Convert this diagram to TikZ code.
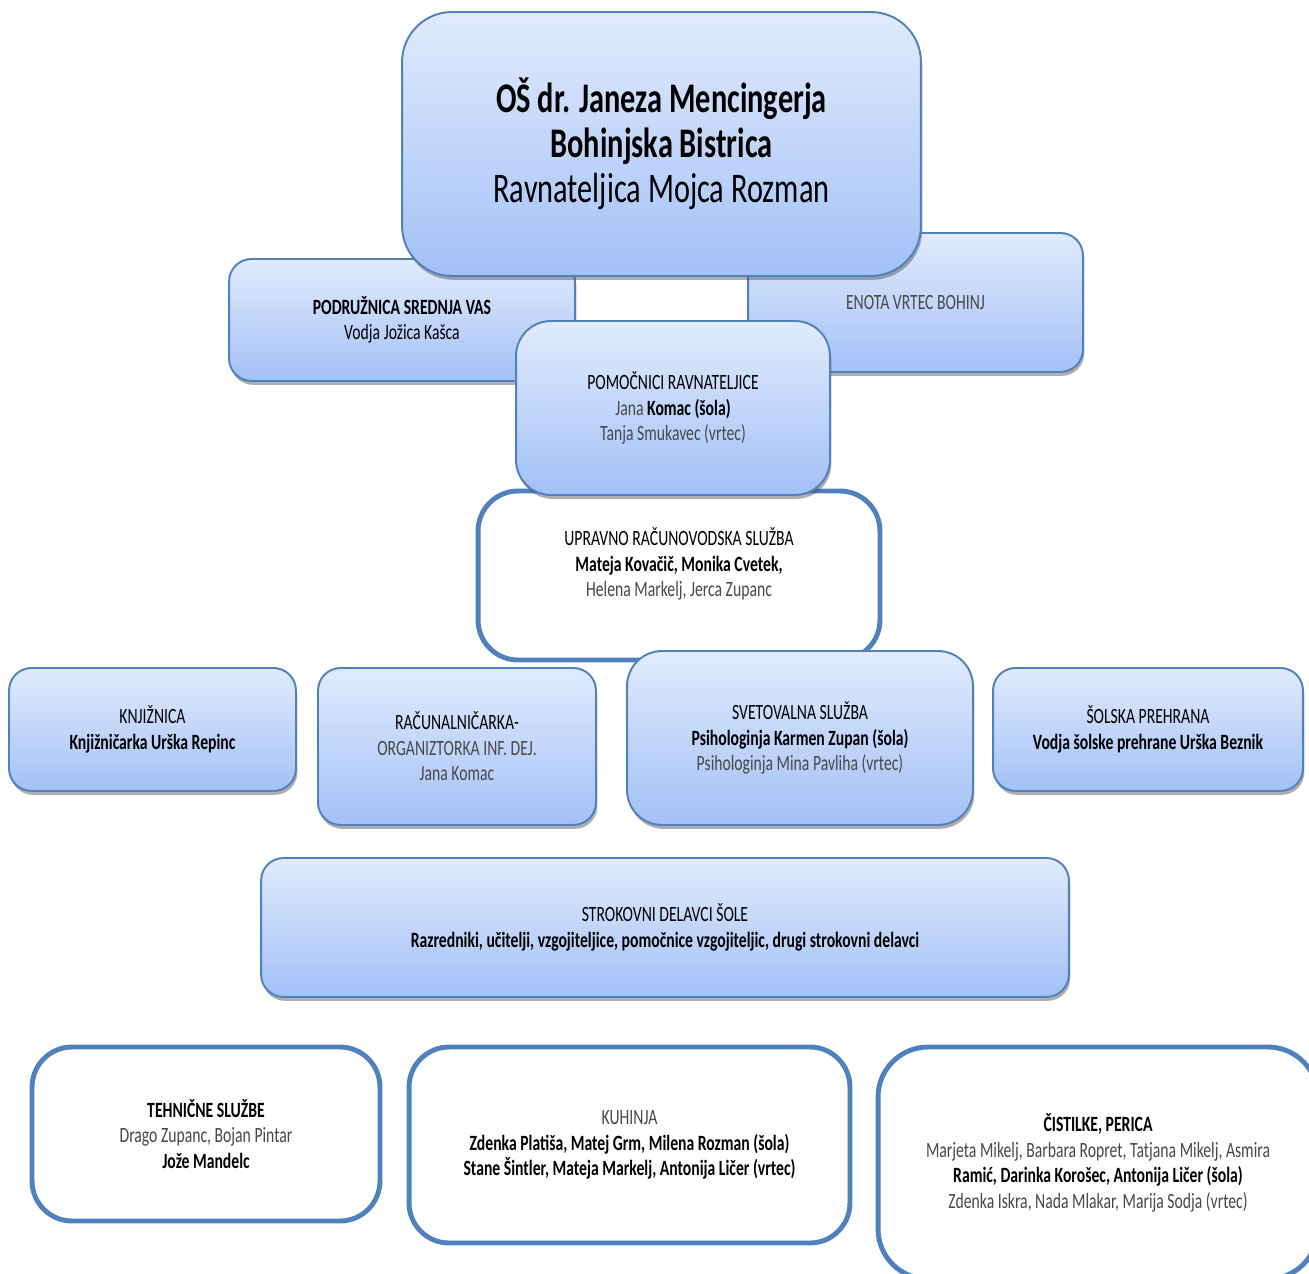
\documentclass[tikz,border=0pt]{standalone}
\usepackage{fontspec}
\setmainfont{Carlito}[FakeStretch=0.72]
\usetikzlibrary{shadows}
\definecolor{boxtop}{RGB}{226,235,253}
\definecolor{boxbot}{RGB}{162,193,246}
\definecolor{boxline}{RGB}{79,129,189}
\definecolor{txtgray}{RGB}{72,72,72}
\newcommand{\graytxt}[1]{\textcolor{txtgray}{#1}}

\begin{document}
\begin{tikzpicture}[x=0.02cm, y=-0.02cm,
    box/.style={draw=boxline, line width=1.1pt, rounded corners=0.45cm,
      top color=boxtop, bottom color=boxbot, align=center,
      font=\fontsize{12.4}{14.5}\selectfont,
      drop shadow={shadow xshift=0.8pt, shadow yshift=-2.2pt, fill=black!70, opacity=.45}},
    whitebox/.style={draw=boxline, line width=2.8pt, rounded corners=0.8cm,
      fill=white, align=center, font=\fontsize{12.4}{14.5}\selectfont}]
  \useasboundingbox (0,0) rectangle (1309,1274);
  \clip (0,0) rectangle (1309,1274);

  % upper level
  \node[box, minimum width=6.7cm, minimum height=2.78cm] (vrtec) at (915.5,302.5)
    {\graytxt{ENOTA VRTEC BOHINJ}};
  \node[box, minimum width=6.92cm, minimum height=2.44cm] (podr) at (402,320)
    {\textbf{PODRUŽNICA SREDNJA VAS}\\Vodja Jožica Kašca};
  \node[box, rounded corners=1cm, minimum width=10.38cm, minimum height=5.28cm,
    font=\fontsize{24}{25.5}\selectfont] (ravn) at (661.5,144)
    {\textbf{OŠ dr. Janeza Mencingerja}\\\textbf{Bohinjska Bistrica}\\Ravnateljica Mojca Rozman};

  % middle level
  \node[whitebox, minimum width=8.04cm, minimum height=3.38cm] (uprava) at (679,575.5) {};
  \node[align=center, font=\fontsize{12.4}{14.5}\selectfont] (upravatxt) at (679,564)
    {UPRAVNO RAČUNOVODSKA SLUŽBA\\\textbf{Mateja Kovačič, Monika Cvetek,}\\\graytxt{Helena Markelj, Jerca Zupanc}};
  \node[box, rounded corners=0.7cm, minimum width=6.28cm, minimum height=3.48cm] (pomoc) at (673,408)
    {POMOČNICI RAVNATELJICE\\\graytxt{Jana} \textbf{Komac (šola)}\\\graytxt{Tanja Smukavec (vrtec)}};

  \node[box, minimum width=5.74cm, minimum height=2.46cm] (knjiz) at (152.5,729.5)
    {KNJIŽNICA\\\textbf{Knjižničarka Urška Repinc}};
  \node[box, minimum width=5.56cm, minimum height=3.14cm] (racun) at (457,746.5)
    {RAČUNALNIČARKA-\\\graytxt{ORGANIZTORKA INF. DEJ.}\\\graytxt{Jana Komac}};
  \node[box, rounded corners=0.7cm, minimum width=6.92cm, minimum height=3.48cm] (svet) at (800,738)
    {SVETOVALNA SLUŽBA\\\textbf{Psihologinja Karmen Zupan (šola)}\\\graytxt{Psihologinja Mina Pavliha (vrtec)}};
  \node[box, minimum width=6.2cm, minimum height=2.46cm] (prehr) at (1148,729.5)
    {ŠOLSKA PREHRANA\\\textbf{Vodja šolske prehrane Urška Beznik}};

  \node[box, minimum width=16.16cm, minimum height=2.78cm] (strok) at (665,927.5)
    {STROKOVNI DELAVCI ŠOLE\\\textbf{Razredniki, učitelji, vzgojiteljice, pomočnice vzgojiteljic, drugi strokovni delavci}};

  % lower level
  \node[whitebox, minimum width=6.96cm, minimum height=3.48cm] (tehn) at (206,1134)
    {\textbf{TEHNIČNE SLUŽBE}\\\graytxt{Drago Zupanc, Bojan Pintar}\\\textbf{Jože Mandelc}};
  \node[whitebox, minimum width=8.82cm, minimum height=3.92cm] (kuh) at (629.5,1145)
    {\graytxt{KUHINJA}\\\textbf{Zdenka Platiša, Matej Grm, Milena Rozman (šola)}\\\textbf{Stane Šintler, Mateja Markelj, Antonija Ličer (vrtec)}};
  \node[whitebox, rounded corners=1cm, minimum width=8.8cm, minimum height=4.64cm] (cist) at (1098,1163)
    {\textbf{ČISTILKE, PERICA}\\\graytxt{Marjeta Mikelj, Barbara Ropret, Tatjana Mikelj, Asmira}\\\textbf{Ramić, Darinka Korošec, Antonija Ličer (šola)}\\\graytxt{Zdenka Iskra, Nada Mlakar, Marija Sodja (vrtec)}};
\end{tikzpicture}
\end{document}
